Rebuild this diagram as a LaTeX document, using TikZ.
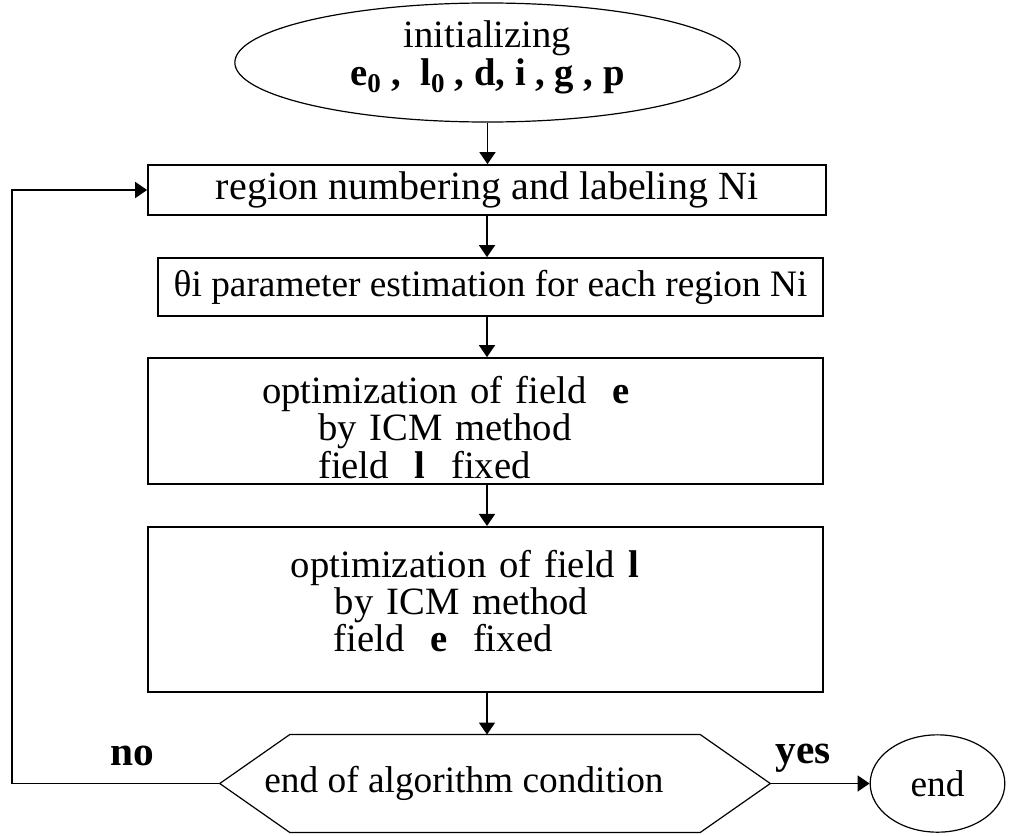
\documentclass[tikz,border=0pt]{standalone}
\usepackage{fontspec}
\setmainfont{Liberation Serif}
\usetikzlibrary{shapes.geometric,arrows.meta}

\begin{document}
\begin{tikzpicture}[x=0.75pt,y=-0.75pt,
	flow/.style={line width=1.2pt,-{Triangle[length=9pt,width=12pt]}},
	stepbox/.style={draw,line width=1.3pt,inner sep=0pt,align=center,font=\fontsize{29}{28}\selectfont},
	oval/.style={draw,ellipse,line width=0.9pt,inner sep=0pt,align=center,font=\fontsize{29}{29}\selectfont},
	lbl/.style={anchor=base,font=\fontsize{31}{31}\selectfont\bfseries}]
	\useasboundingbox (0,0) rectangle (1016,835);
	% start
	\node[oval,minimum width=379pt,minimum height=86pt] (init) at (487.5,62.5)
		{initializing\\ \textbf{e\textsubscript{0} ,\ \ l\textsubscript{0} , d, i ,\ g ,\ p}\rule[-14pt]{0pt}{0pt}};
	% loop body
	\node[stepbox,minimum width=508.5pt,minimum height=37.5pt,font=\fontsize{30}{30}\selectfont] (number) at (487,190)
		{region numbering and labeling Ni};
	\node[stepbox,minimum width=499pt,minimum height=43.5pt,font=\fontsize{28}{30}\selectfont] (theta) at (490.5,287)
		{θi parameter estimation for each region Ni};
	\node[stepbox,minimum height=94.5pt,text width=506pt,align=left] (opte) at (485.5,421)
		{\hspace*{85.5pt}\rule{0pt}{30pt}optimization of field\ \ \textbf{e}\\ \hspace*{127.5pt}by ICM method\\ \hspace*{127.5pt}field\ \ \textbf{l}\ \ fixed};
	\node[stepbox,minimum height=124pt,text width=506pt,align=left] (optl) at (485.5,609.5)
		{\hspace*{107pt}optimization of field \textbf{l}\\ \hspace*{140pt}by ICM method\\ \hspace*{139pt}field\ \ \textbf{e}\ \ fixed\rule[-13pt]{0pt}{0pt}};
	% test and end
	\node[minimum width=412.5pt,minimum height=73pt,inner sep=0pt,font=\fontsize{28}{30}\selectfont] (cond) at (495,783.5)
		{end of algorithm condition\hspace*{46.5pt}};
	\draw[line width=0.9pt] (cond.west) -- ([xshift=52.5pt]cond.north west) -- ([xshift=-52.5pt]cond.north east)
		-- (cond.east) -- ([xshift=-52.5pt]cond.south east) -- ([xshift=52.5pt]cond.south west) -- cycle;
	\node[oval,minimum width=101pt,minimum height=73pt,font=\fontsize{28}{30}\selectfont] (end) at (937.5,783.5) {end};
	\coordinate (back) at (12,783.5);

	\draw[flow] (init) -- (init |- number.north);
	\draw[flow] (number.south) -- (number.south |- theta.north);
	\draw[flow] (number.south |- theta.south) -- (number.south |- opte.north);
	\draw[flow] (number.south |- opte.south) -- (number.south |- optl.north);
	\draw[flow] (number.south |- optl.south) -- (number.south |- cond.north);
	\draw[flow] (cond.east) -- (end);
	\draw[flow] (cond.west) -- (back) |- (number.west);

	\node[lbl] (no) at (132,765) {no};
	\node[lbl] (yes) at (803,763) {yes};
\end{tikzpicture}
\end{document}
